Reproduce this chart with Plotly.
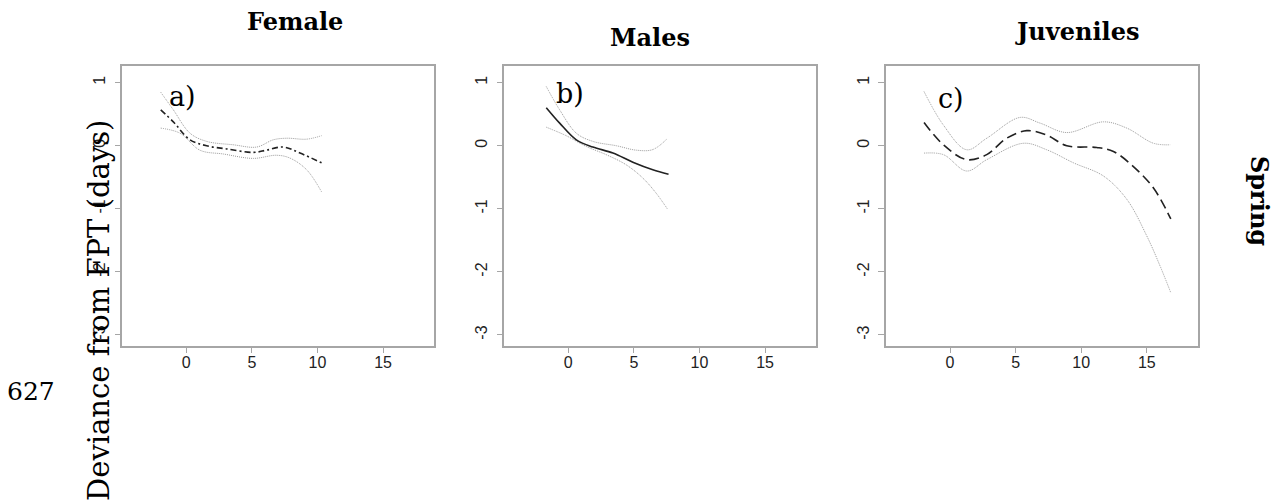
import plotly.graph_objects as go

# page body has an 8px default margin; the figure is sized to fill the rest
OFF = 8
W, H = 1283 - OFF, 501 - OFF

# ---------------- data ----------------
fem_x = [-1.95, -0.99, 0.28, 1.55, 3.08, 5.1, 6.1, 7.39, 8.66, 10.31]
fem_fit = [0.57, 0.38, 0.095, 0.0, -0.05, -0.105, -0.07, -0.02, -0.115, -0.27]
fem_up_x = [-1.95, -0.99, 0.28, 1.55, 3.58, 5.36, 6.63, 7.65, 9.17, 10.31]
fem_up = [0.85, 0.57, 0.2, 0.07, 0.016, -0.02, 0.095, 0.12, 0.105, 0.16]
fem_lo_x = [-1.95, -0.48, 1.04, 2.82, 5.1, 6.88, 7.9, 9.17, 10.31]
fem_lo = [0.28, 0.2, -0.07, -0.13, -0.2, -0.15, -0.195, -0.38, -0.73]

mal_x = [-1.68, -0.66, 0.61, 1.87, 3.4, 4.92, 6.44, 7.64]
mal_fit = [0.605, 0.36, 0.095, -0.02, -0.115, -0.26, -0.38, -0.45]
mal_up_x = [-1.68, -0.66, 0.61, 1.87, 3.68, 5.2, 6.44, 7.5]
mal_up = [0.94, 0.57, 0.2, 0.07, 0.0, -0.07, -0.06, 0.105]
mal_lo_x = [-1.68, -0.16, 1.36, 2.88, 4.4, 5.67, 6.69, 7.58]
mal_lo = [0.295, 0.16, -0.01, -0.14, -0.3, -0.51, -0.75, -1.01]

juv_x = [-1.98, -0.51, 1.27, 2.8, 4.32, 5.85, 7.37, 8.9, 11.19, 12.46, 13.98, 15.51, 16.83]
juv_fit = [0.37, 0.016, -0.22, -0.14, 0.12, 0.24, 0.17, 0.0, -0.027, -0.09, -0.33, -0.67, -1.16]
juv_up_x = [-1.98, -0.51, 1.27, 2.8, 5.34, 6.86, 8.9, 11.7, 13.48, 15.51, 16.78]
juv_up = [0.86, 0.33, -0.063, 0.12, 0.45, 0.36, 0.21, 0.38, 0.28, 0.04, 0.016]
juv_lo_x = [-1.98, -0.51, 1.27, 2.8, 5.59, 7.37, 9.41, 11.7, 13.48, 15.0, 16.02, 16.83]
juv_lo = [-0.116, -0.14, -0.4, -0.22, 0.04, -0.063, -0.27, -0.48, -0.85, -1.43, -1.91, -2.33]

x_ticks = [0, 5, 10, 15]
y_ticks = [1, 0, -1, -2, -3]
titles = ["Female", "Males", "Juveniles"]
panel_labels = ["a)", "b)", "c)"]
ylabel = "Deviance from FPT (days)"
row_label = "Spring"
line_no = "627"

# ---------------- figure ----------------
fig = go.Figure()

panels = [
    (fem_x, fem_fit, fem_up_x, fem_up, fem_lo_x, fem_lo, "6px,3px,2px,3px"),
    (mal_x, mal_fit, mal_up_x, mal_up, mal_lo_x, mal_lo, "solid"),
    (juv_x, juv_fit, juv_up_x, juv_up, juv_lo_x, juv_lo, "10px,5px"),
]

def hx(p):
    return (p - OFF) / W

def vy(p):
    return 1 - (p - OFF) / H

domains = [(122.3, 434.0), (504.3, 816.0), (886.0, 1197.7)]
y_dom = [vy(345.7), vy(65.7)]

ci_style = dict(color="#9a9a9a", width=1, dash="1px,1px", shape="spline", smoothing=1.0)

for i, (fx, fy, ux, uy, lx, ly, dsh) in enumerate(panels):
    xa = "x" if i == 0 else f"x{i+1}"
    ya = "y" if i == 0 else f"y{i+1}"
    fig.add_trace(go.Scatter(x=ux, y=uy, mode="lines", line=ci_style, xaxis=xa, yaxis=ya,
                             showlegend=False, hoverinfo="skip"))
    fig.add_trace(go.Scatter(x=lx, y=ly, mode="lines", line=ci_style, xaxis=xa, yaxis=ya,
                             showlegend=False, hoverinfo="skip"))
    fig.add_trace(go.Scatter(x=fx, y=fy, mode="lines",
                             line=dict(color="#222222", width=1.6, dash=dsh, shape="spline", smoothing=1.0),
                             xaxis=xa, yaxis=ya, showlegend=False, hoverinfo="skip"))

axis_common = dict(showline=True, mirror=True, linecolor="#a6a6a6", linewidth=1.5,
                   ticks="outside", ticklen=6, tickcolor="#a6a6a6", tickwidth=1,
                   showgrid=False, zeroline=False,
                   tickfont=dict(family="Liberation Sans, Arial", size=16, color="#222222"))

layout = dict(width=W, height=H, margin=dict(l=0, r=0, t=0, b=0),
              paper_bgcolor="white", plot_bgcolor="white", showlegend=False)

for i, (x0, x1) in enumerate(domains):
    xk = "xaxis" if i == 0 else f"xaxis{i+1}"
    yk = "yaxis" if i == 0 else f"yaxis{i+1}"
    ya = "y" if i == 0 else f"y{i+1}"
    xa = "x" if i == 0 else f"x{i+1}"
    layout[xk] = dict(domain=[hx(x0), hx(x1)], range=[-4.88, 18.88], anchor=ya,
                      tickvals=x_ticks, ticktext=[str(v) for v in x_ticks],
                      ticklabelstandoff=-5, **axis_common)
    layout[yk] = dict(domain=y_dom, range=[-3.17, 1.27], anchor=xa,
                      tickvals=y_ticks, ticktext=[str(v) for v in y_ticks], tickangle=-90,
                      ticklabelstandoff=3, **axis_common)

fig.update_layout(**layout)

serif = "DejaVu Serif"

ann = []
for t, (cx, cy) in zip(titles, [(295, 21.5), (650, 37), (1077, 31)]):
    ann.append(dict(text=f"<b>{t}</b>", x=hx(cx), y=vy(cy), xref="paper", yref="paper",
                    xanchor="center", yanchor="middle", showarrow=False,
                    font=dict(family=serif, size=24, color="black")))
for t, (cx, cy) in zip(panel_labels, [(182, 96), (570, 94), (951, 98)]):
    ann.append(dict(text=t, x=hx(cx), y=vy(cy), xref="paper", yref="paper",
                    xanchor="center", yanchor="middle", showarrow=False,
                    font=dict(family=serif, size=27, color="black")))
ann.append(dict(text=ylabel, x=hx(99), y=vy(310), xref="paper", yref="paper", textangle=-90,
                xanchor="center", yanchor="middle", showarrow=False,
                font=dict(family=serif, size=29, color="black")))
ann.append(dict(text=f"<b>{row_label}</b>", x=hx(1260), y=vy(201), xref="paper", yref="paper",
                textangle=90, xanchor="center", yanchor="middle", showarrow=False,
                font=dict(family=serif, size=24, color="black")))
ann.append(dict(text=line_no, x=hx(31), y=vy(391), xref="paper", yref="paper",
                xanchor="center", yanchor="middle", showarrow=False,
                font=dict(family=serif, size=25, color="black")))

fig.update_layout(annotations=ann)
fig.write_html("out.html")
